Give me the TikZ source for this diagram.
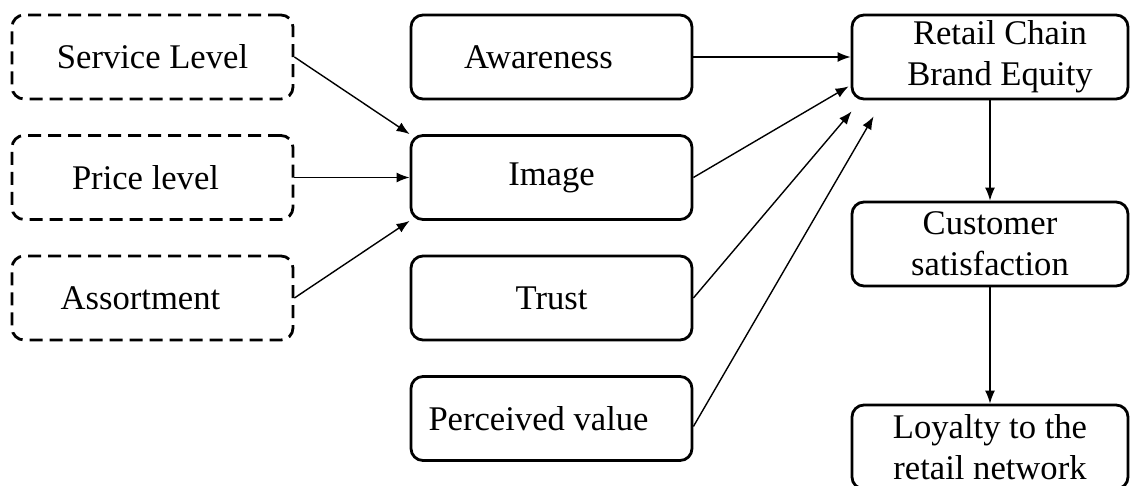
\documentclass[tikz,border=0pt]{standalone}
\usepackage{fontspec}
\setmainfont{Liberation Serif}
\usetikzlibrary{arrows.meta,positioning,calc}

\begin{document}
\begin{tikzpicture}[x=0.5pt,y=-0.5pt,
  font=\fontsize{17.3}{20.5}\selectfont,
  box/.style={draw,line width=1.4pt,rounded corners=6pt,
    minimum width=140.5pt,minimum height=42pt,inner sep=0pt,align=center},
  factor/.style={box,dash pattern=on 6.5pt off 3.5pt},
  outcome/.style={box,minimum width=138pt},
  link/.style={-{Latex[length=6.5pt,width=5pt]},line width=0.7pt}]

  \useasboundingbox (0,0) rectangle (1130,486);

  % antecedents of the image
  \node[factor] (service) at (152.5,57)    {Service Level};
  \node[factor] (price)   at (152.5,177.5) {Price level\hspace*{7pt}};
  \node[factor] (assort)  at (152.5,298)   {Assortment\hspace*{12pt}};

  % brand equity dimensions
  \node[box] (aware)   at (551.5,57)    {Awareness\hspace*{13pt}};
  \node[box] (image)   at (551.5,177.5) {Image};
  \node[box] (trust)   at (551.5,298)   {Trust};
  \node[box] (percval) at (551.5,418.5) {Perceived value\hspace*{13pt}};

  % outcomes
  \node[outcome] (equity)  at (990,57)  {\hspace*{10pt}Retail Chain\\\hspace*{10pt}Brand Equity};
  \node[outcome] (satisf)  at (990,244) {Customer\\satisfaction};
  \node[outcome] (loyalty) at (990,447) {Loyalty to the\\retail network};

  \coordinate (e1) at ($ (equity.south west)+(-2,-14) $);
  \coordinate (e2) at ($ (equity.south west)+(1,11) $);
  \coordinate (e3) at ($ (equity.south west)+(23,16) $);

  \draw[link] (service.east) -- (image.north west);
  \draw[link] (price.east)   -- (image.west |- price.east);
  \draw[link] (assort.east)  -- (image.south west);

  \draw[link] (aware.east)   -- (equity.west);
  \draw[link] (image.east)   -- (e1);
  \draw[link] (trust.east)   -- (e2);
  \draw[link] ([yshift=-4]percval.east) -- (e3);

  \draw[link] (equity.south) -- (satisf.north);
  \draw[link] (satisf.south) -- (loyalty.north);

\end{tikzpicture}
\end{document}
